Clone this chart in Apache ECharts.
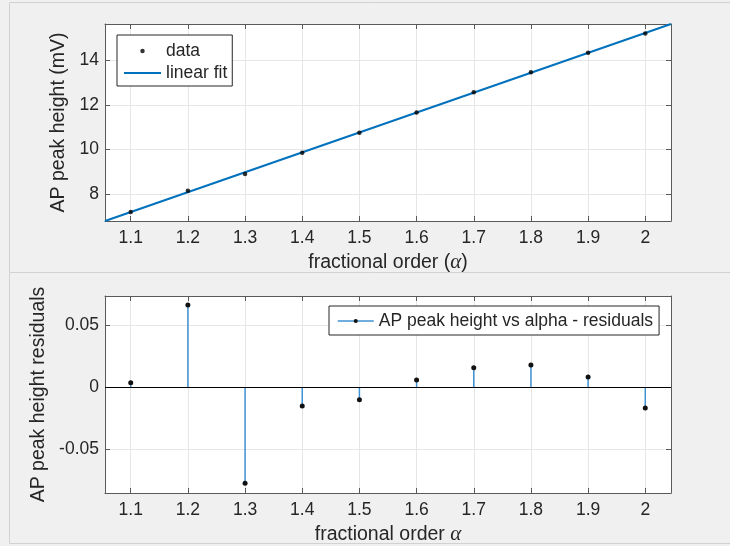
<!DOCTYPE html>
<html>
<head>
<meta charset="utf-8">
<script src="https://cdn.jsdelivr.net/npm/echarts@6/dist/echarts.min.js"></script>
<style>
  html, body { margin: 0; padding: 0; background: #f0f0f0; }
  #chart { width: 730px; height: 546px; }
</style>
</head>
<body>
<div id="chart"></div>
<script>
// ---- data ----
const alphaValues = [1.1, 1.2, 1.3, 1.4, 1.5, 1.6, 1.7, 1.8, 1.9, 2.0];
const peakHeight = [7.21, 8.16, 8.91, 9.86, 10.75, 11.66, 12.56, 13.45, 14.33, 15.19];
const fitX = [1.055, 2.045];
const fitY = [6.81, 15.61];
const residuals = [0.0037, 0.0666, -0.0777, -0.0151, -0.0100, 0.0059, 0.0158, 0.0180, 0.0083, -0.0167];
const xTicks = [1.1, 1.2, 1.3, 1.4, 1.5, 1.6, 1.7, 1.8, 1.9, 2];
const yTicksTop = [8, 10, 12, 14];
const yTicksBottom = [-0.05, 0, 0.05];
const xRange = [1.055, 2.045];
const yRangeTop = [6.81, 15.61];
const yRangeBottom = [-0.0855, 0.0739];

// ---- styling ----
const FONT = "'Liberation Sans', Arial, Helvetica, sans-serif";
const TXT = '#262626';
const AXC = '#5a5a5a';
const GRIDC = '#e6e6e6';
const BLUE = '#0072BD';
const STEM = '#3f93d4';

function pairs(xs, ys) { return xs.map((x, i) => [x, ys[i]]); }

function xAxisPair(gridIndex, nameRich) {
  return [
    {
      type: 'value', gridIndex: gridIndex, position: 'bottom',
      min: xRange[0], max: xRange[1],
      name: nameRich, nameLocation: 'middle', nameGap: 31,
      nameTextStyle: { fontFamily: FONT, fontSize: 19.5, color: TXT,
        rich: { a: { fontFamily: "'Liberation Serif', 'DejaVu Serif', serif", fontStyle: 'italic', fontSize: 21, color: TXT } } },
      axisLine: { show: true, onZero: false, lineStyle: { color: AXC, width: 1 } },
      axisTick: { show: true, inside: true, length: 5, customValues: xTicks, lineStyle: { color: AXC } },
      axisLabel: { show: true, customValues: xTicks, margin: 8, fontFamily: FONT, fontSize: 17.5, color: TXT },
      splitLine: { show: true, lineStyle: { color: GRIDC, width: 1 } }
    },
    {
      type: 'value', gridIndex: gridIndex, position: 'top',
      min: xRange[0], max: xRange[1],
      axisLine: { show: true, onZero: false, lineStyle: { color: AXC, width: 1 } },
      axisTick: { show: true, inside: true, length: 5, customValues: xTicks, lineStyle: { color: AXC } },
      axisLabel: { show: false, customValues: xTicks },
      splitLine: { show: false }
    }
  ];
}

function yAxisPair(gridIndex, range, ticks, name, gap) {
  return [
    {
      type: 'value', gridIndex: gridIndex, position: 'left',
      min: range[0], max: range[1],
      name: name, nameLocation: 'middle', nameGap: gap, nameRotate: 90,
      nameTextStyle: { fontFamily: FONT, fontSize: 19.5, color: TXT },
      axisLine: { show: true, onZero: false, lineStyle: { color: AXC, width: 1 } },
      axisTick: { show: true, inside: true, length: 5, customValues: ticks, lineStyle: { color: AXC } },
      axisLabel: { show: true, customValues: ticks, margin: 6, fontFamily: FONT, fontSize: 17.5, color: TXT },
      splitLine: { show: true, lineStyle: { color: GRIDC, width: 1 } }
    },
    {
      type: 'value', gridIndex: gridIndex, position: 'right',
      min: range[0], max: range[1],
      axisLine: { show: true, onZero: false, lineStyle: { color: AXC, width: 1 } },
      axisTick: { show: true, inside: true, length: 5, customValues: ticks, lineStyle: { color: AXC } },
      axisLabel: { show: false, customValues: ticks },
      splitLine: { show: false }
    }
  ];
}

const chart = echarts.init(document.getElementById('chart'), null, { renderer: 'canvas' });

const option = {
  animation: false,
  backgroundColor: '#f0f0f0',
  textStyle: { fontFamily: FONT },
  graphic: [
    { type: 'line', shape: { x1: 9.5, y1: 2.5, x2: 731, y2: 2.5 }, style: { stroke: '#d2d2d2', lineWidth: 1 }, silent: true },
    { type: 'line', shape: { x1: 9.5, y1: 2.5, x2: 9.5, y2: 543.5 }, style: { stroke: '#d2d2d2', lineWidth: 1 }, silent: true },
    { type: 'line', shape: { x1: 9.5, y1: 272.5, x2: 731, y2: 272.5 }, style: { stroke: '#d2d2d2', lineWidth: 1 }, silent: true },
    { type: 'line', shape: { x1: 9.5, y1: 543.5, x2: 731, y2: 543.5 }, style: { stroke: '#d2d2d2', lineWidth: 1 }, silent: true }
  ],
  grid: [
    { left: 105, top: 24, width: 566, height: 197, backgroundColor: '#ffffff', show: true, borderWidth: 0 },
    { left: 105, top: 296, width: 566, height: 197, backgroundColor: '#ffffff', show: true, borderWidth: 0 }
  ],
  xAxis: [].concat(
    xAxisPair(0, 'fractional order ({a|α})'),
    xAxisPair(1, 'fractional order {a|α}')
  ),
  yAxis: [].concat(
    yAxisPair(0, yRangeTop, yTicksTop, 'AP peak height (mV)', 29),
    yAxisPair(1, yRangeBottom, yTicksBottom, 'AP peak height residuals', 51)
  ),
  legend: [
    {
      orient: 'vertical', left: 117, top: 35,
      padding: [7, 5, 4, 7], itemGap: 4, itemWidth: 37, itemHeight: 4.5,
      backgroundColor: '#ffffff', borderColor: '#262626', borderWidth: 1, borderRadius: 0,
      textStyle: { fontFamily: FONT, fontSize: 17.5, color: TXT },
      selectedMode: false,
      data: [
        { name: 'data', icon: 'circle', itemStyle: { color: '#000000' } },
        { name: 'linear fit', icon: 'path://M0,0H40V2H0Z', itemStyle: { color: BLUE } }
      ]
    },
    {
      orient: 'horizontal', left: 329, top: 306,
      padding: [6, 6, 5, 8], itemWidth: 36, itemHeight: 5,
      backgroundColor: '#ffffff', borderColor: '#262626', borderWidth: 1, borderRadius: 0,
      textStyle: { fontFamily: FONT, fontSize: 17.5, color: TXT },
      selectedMode: false,
      data: [
        { name: 'AP peak height vs alpha - residuals',
          lineStyle: { color: STEM, width: 1.5, opacity: 1, type: 'solid' },
          itemStyle: { color: '#111111', opacity: 1 } }
      ]
    }
  ],
  series: [
    {
      name: 'linear fit', type: 'line', xAxisIndex: 0, yAxisIndex: 0,
      data: pairs(fitX, fitY), symbol: 'none', showSymbol: false,
      lineStyle: { color: BLUE, width: 2 }, itemStyle: { color: BLUE }, z: 3
    },
    {
      name: 'data', type: 'scatter', xAxisIndex: 0, yAxisIndex: 0,
      data: pairs(alphaValues, peakHeight), symbol: 'circle', symbolSize: 4.5,
      itemStyle: { color: '#000000' }, z: 4
    },
    {
      name: 'stems', type: 'bar', xAxisIndex: 2, yAxisIndex: 2,
      data: pairs(alphaValues, residuals), barWidth: 1.5,
      itemStyle: { color: STEM }, z: 2,
      markLine: {
        silent: true, symbol: 'none', animation: false,
        label: { show: false },
        lineStyle: { color: '#000000', width: 1, type: 'solid' },
        data: [{ yAxis: 0 }]
      }
    },
    {
      name: 'AP peak height vs alpha - residuals', type: 'line', xAxisIndex: 2, yAxisIndex: 2,
      data: pairs(alphaValues, residuals), symbol: 'circle', symbolSize: 5, showSymbol: true,
      lineStyle: { opacity: 0, color: STEM, width: 1.5 },
      itemStyle: { color: '#111111' }, z: 5
    }
  ]
};

chart.setOption(option);
</script>
</body>
</html>
